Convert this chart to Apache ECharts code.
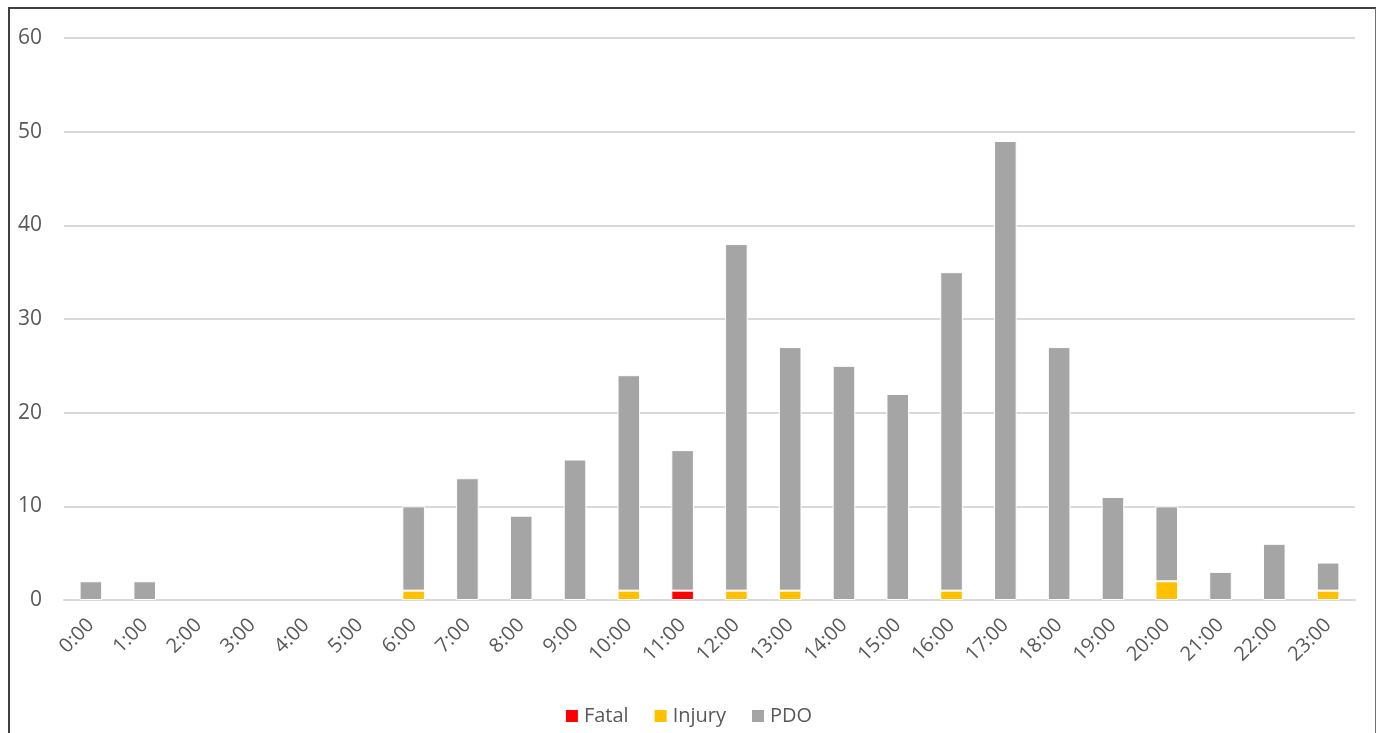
<!DOCTYPE html>
<html>
<head>
<meta charset="utf-8">
<script src="https://cdn.jsdelivr.net/npm/echarts@6/dist/echarts.min.js"></script>
<style>
  html, body { margin: 0; padding: 0; background: #fff; }
  #chart { position: absolute; left: 0; top: 0; width: 1376px; height: 733px; }
  #frame { position: absolute; left: 8px; top: 7px; width: 1365px; height: 740px;
    border-top: 2px solid #404040; border-left: 2px solid #404040; border-right: 1px solid #707070;
    pointer-events: none; }
</style>
</head>
<body>
<div id="chart"></div>
<div id="frame"></div>
<script>
const hours = ['0:00','1:00','2:00','3:00','4:00','5:00','6:00','7:00','8:00','9:00','10:00','11:00',
  '12:00','13:00','14:00','15:00','16:00','17:00','18:00','19:00','20:00','21:00','22:00','23:00'];
const fatal  = [0,0,0,0,0,0,0,0,0,0,0,1, 0,0,0,0,0,0,0,0,0,0,0,0];
const injury = [0,0,0,0,0,0,1,0,0,0,1,0, 1,1,0,0,1,0,0,0,2,0,0,1];
const pdo    = [2,2,0,0,0,0,9,13,9,15,23,15, 37,26,25,22,34,49,27,11,8,3,6,3];

const font = '"Open Sans", "Liberation Sans", sans-serif';
const barStyle = color => ({ color: color, borderColor: '#fff', borderWidth: 1 });
// zero values are drawn as nothing rather than an empty bar
const noZero = arr => arr.map(v => (v === 0 ? null : v));

const option = {
  animation: false,
  textStyle: { fontFamily: font },
  grid: { left: 64, right: 21, top: 38, bottom: 133 },
  legend: {
    top: 701, left: 'center',
    itemWidth: 14, itemHeight: 14, itemGap: 24,
    icon: 'rect',
    textStyle: { color: '#595959', fontSize: 20, fontFamily: font },
    data: ['Fatal', 'Injury', 'PDO']
  },
  xAxis: {
    type: 'category',
    data: hours,
    axisLine: { lineStyle: { color: '#d9d9d9', width: 2 } },
    axisTick: { show: false },
    axisLabel: { rotate: 45, color: '#595959', fontSize: 20, margin: 22, interval: 0 }
  },
  yAxis: {
    type: 'value',
    min: 0, max: 60, interval: 10,
    axisLine: { show: false },
    axisTick: { show: false },
    axisLabel: { color: '#595959', fontSize: 21, margin: 22 },
    splitLine: { lineStyle: { color: '#d9d9d9', width: 2 } }
  },
  series: [
    { name: 'Fatal', type: 'bar', stack: 'total', data: noZero(fatal), barWidth: '42%', itemStyle: barStyle('#ff0000') },
    { name: 'Injury', type: 'bar', stack: 'total', data: noZero(injury), itemStyle: barStyle('#ffc000') },
    { name: 'PDO', type: 'bar', stack: 'total', data: noZero(pdo), itemStyle: barStyle('#a5a5a5') }
  ]
};

const chart = echarts.init(document.getElementById('chart'));
chart.setOption(option);
</script>
</body>
</html>
